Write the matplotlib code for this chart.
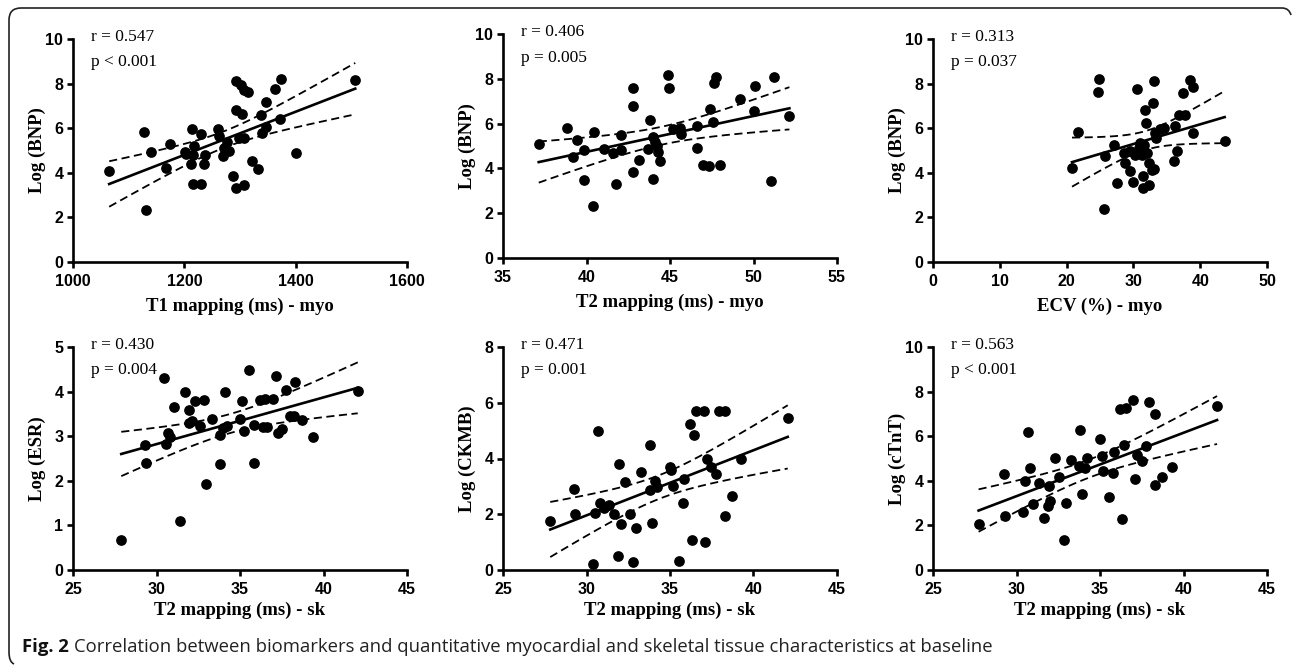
import numpy as np
import matplotlib
matplotlib.use('Agg')
import matplotlib.pyplot as plt
from matplotlib.path import Path
from matplotlib.patches import PathPatch

# panel 1: T1 mapping myo vs log BNP
t1_myo = [1065, 1127, 1131, 1141, 1167, 1174, 1201, 1203, 1214, 1212, 1216, 1217, 1216,
          1230, 1230, 1236, 1237, 1260, 1263, 1269, 1272, 1277, 1280, 1287, 1293, 1292,
          1293, 1302, 1308, 1314, 1304, 1298, 1307, 1307, 1322, 1332, 1337, 1347, 1340,
          1346, 1362, 1374, 1372, 1401, 1507]
bnp_t1 = [4.09, 5.84, 2.34, 4.94, 4.21, 5.28, 4.94, 4.85, 5.96, 4.40, 3.52, 5.18, 4.81,
          5.73, 3.52, 4.40, 4.78, 5.96, 5.63, 4.75, 5.10, 5.40, 4.96, 3.87, 8.12, 6.82,
          3.31, 7.94, 7.72, 7.64, 6.64, 5.55, 5.55, 3.46, 4.55, 4.16, 6.60, 7.16, 5.78,
          6.07, 7.75, 8.19, 6.40, 4.91, 8.16]

# panel 2: T2 mapping myo vs log BNP
t2_myo = [37.14, 38.83, 39.19, 39.43, 39.83, 39.83, 40.37, 40.47, 41.03, 41.59, 42.07,
          42.07, 41.75, 42.78, 42.78, 42.78, 43.16, 43.78, 43.68, 43.96, 43.98, 44.12,
          44.22, 44.30, 44.42, 44.86, 44.94, 45.16, 45.62, 45.66, 46.62, 46.62, 46.96,
          47.36, 47.38, 47.58, 47.66, 47.76, 48.01, 49.17, 50.11, 50.01, 51.05, 51.21, 52.15]
bnp_t2 = [5.10, 5.79, 4.53, 5.25, 4.83, 3.49, 2.30, 5.62, 4.87, 4.68, 5.50,
          4.83, 3.30, 7.61, 6.79, 3.83, 4.38, 6.14, 4.87, 3.54, 5.42, 5.20,
          4.98, 4.75, 4.34, 8.16, 7.58, 5.75, 5.80, 5.54, 5.91, 4.93, 4.13,
          4.09, 6.64, 6.05, 7.83, 8.07, 4.13, 7.10, 7.70, 6.57, 3.45, 8.10, 6.36]

# panel 3: ECV myo vs log BNP
ecv_myo = [20.81, 21.66, 24.65, 24.85, 25.80, 25.65, 27.05, 27.54, 28.54, 28.69, 29.44,
           29.54, 29.94, 30.19, 30.54, 30.79, 31.04, 31.29, 31.44, 31.54, 31.64, 31.79,
           31.89, 32.04, 31.44, 32.29, 32.29, 32.78, 32.88, 33.13, 33.13, 33.28, 33.43,
           33.93, 34.53, 36.03, 36.53, 36.28, 36.88, 37.43, 37.77, 38.52, 38.92, 38.92, 43.66]
bnp_ecv = [4.21, 5.85, 7.64, 8.19, 4.76, 2.37, 5.25, 3.54, 4.88, 4.43, 5.00,
           4.10, 3.57, 4.81, 7.75, 5.10, 5.33, 4.81, 3.87, 4.96, 5.25, 6.82,
           6.22, 4.91, 3.31, 3.46, 4.43, 4.13, 7.15, 8.12, 4.16, 5.78, 5.58,
           5.96, 6.00, 4.55, 4.99, 6.10, 6.60, 7.60, 6.60, 8.16, 7.84, 5.78, 5.43]

# panel 4: T2 mapping sk vs log ESR
t2_sk_esr = [27.89, 29.29, 29.37, 30.43, 30.57, 30.69, 30.79, 31.03, 31.43, 31.69, 31.97,
             31.97, 32.13, 32.33, 32.59, 32.87, 32.98, 33.32, 33.78, 33.82, 33.98, 34.12,
             34.22, 35.02, 35.12, 35.22, 35.56, 35.82, 35.86, 36.22, 36.52, 36.36, 36.62,
             36.98, 37.16, 37.26, 37.52, 37.78, 37.98, 38.25, 38.31, 38.71, 39.35, 42.05]
esr = [0.67, 2.81, 2.40, 4.30, 2.82, 3.07, 2.99, 3.65, 1.09, 4.00, 3.59,
       3.29, 3.33, 3.78, 3.22, 3.82, 1.93, 3.39, 3.03, 2.38, 3.18, 3.98,
       3.22, 3.39, 3.80, 3.12, 4.48, 2.40, 3.24, 3.82, 3.84, 3.20, 3.20,
       3.84, 4.36, 3.07, 3.16, 4.04, 3.46, 3.46, 4.21, 3.37, 2.98, 4.02]

# panel 5: T2 mapping sk vs log CKMB
t2_sk_ckmb = [27.83, 29.27, 29.33, 30.37, 30.53, 30.67, 30.83, 31.03, 31.33, 31.63, 31.87,
              31.97, 32.07, 32.33, 32.59, 32.78, 32.96, 33.28, 33.82, 33.82, 33.92, 34.12,
              34.22, 35.00, 35.06, 35.16, 35.56, 35.82, 35.78, 36.22, 36.32, 36.42, 36.56,
              37.02, 37.12, 37.22, 37.48, 37.78, 37.91, 38.31, 38.31, 38.71, 39.27, 42.05]
ckmb = [1.76, 2.90, 2.00, 0.20, 2.06, 4.99, 2.42, 2.22, 2.34, 2.00, 0.50,
        3.81, 1.64, 3.15, 2.01, 0.30, 1.50, 3.53, 4.47, 2.87, 1.68, 3.20,
        2.99, 3.71, 3.57, 3.03, 0.34, 3.26, 2.42, 5.25, 1.08, 4.85, 5.69,
        5.69, 0.99, 3.99, 3.71, 3.45, 5.69, 5.69, 1.95, 2.66, 3.98, 5.47]

# panel 6: T2 mapping sk vs log cTnT
t2_sk_ctnt = [27.73, 29.27, 29.33, 30.37, 30.49, 30.67, 30.79, 30.99, 31.37, 31.63, 31.87,
              31.97, 32.03, 32.33, 32.57, 32.96, 32.82, 33.28, 33.72, 33.82, 33.92, 34.12,
              34.22, 35.00, 35.12, 35.18, 35.52, 35.82, 35.78, 36.18, 36.56, 36.32, 36.42,
              36.98, 37.12, 37.22, 37.52, 37.78, 37.94, 38.31, 38.27, 38.71, 39.31, 42.01]
ctnt = [2.07, 4.31, 2.40, 2.62, 4.00, 6.18, 4.57, 2.95, 3.89, 2.35, 2.87,
        3.77, 3.10, 5.01, 4.19, 3.02, 1.35, 4.94, 4.67, 6.29, 3.41, 4.57,
        5.01, 5.88, 5.12, 4.42, 3.29, 5.27, 4.34, 7.22, 7.26, 2.28, 5.61,
        7.63, 4.07, 5.16, 4.87, 5.57, 7.53, 6.99, 3.82, 4.19, 4.64, 7.37]

panels = [
    (t1_myo, bnp_t1, 'T1 mapping (ms) - myo', 'Log (BNP)', (1000, 1600), [1000, 1200, 1400, 1600], 10, 'r = 0.547', 'p < 0.001'),
    (t2_myo, bnp_t2, 'T2 mapping (ms) - myo', 'Log (BNP)', (35, 55), [35, 40, 45, 50, 55], 10, 'r = 0.406', 'p = 0.005'),
    (ecv_myo, bnp_ecv, 'ECV (%) - myo', 'Log (BNP)', (0, 50), [0, 10, 20, 30, 40, 50], 10, 'r = 0.313', 'p = 0.037'),
    (t2_sk_esr, esr, 'T2 mapping (ms) - sk', 'Log (ESR)', (25, 45), [25, 30, 35, 40, 45], 5, 'r = 0.430', 'p = 0.004'),
    (t2_sk_ckmb, ckmb, 'T2 mapping (ms) - sk', 'Log (CKMB)', (25, 45), [25, 30, 35, 40, 45], 8, 'r = 0.471', 'p = 0.001'),
    (t2_sk_ctnt, ctnt, 'T2 mapping (ms) - sk', 'Log (cTnT)', (25, 45), [25, 30, 35, 40, 45], 10, 'r = 0.563', 'p < 0.001'),
]

W, H = 1292, 666
# axes boxes in pixels: left, top, right, bottom
boxes = [(73, 39, 407, 262), (503, 34, 837, 258), (933, 39, 1267, 262),
         (73, 347, 407, 570), (503, 347, 837, 570), (933, 347, 1267, 570)]

fig = plt.figure(figsize=(W / 100, H / 100), dpi=100)

for i, (x, y, xlab, ylab, xlim, xt, ymax, rtxt, ptxt) in enumerate(panels):
    l, t, r, b = boxes[i]
    ax = fig.add_axes([l / W, 1 - b / H, (r - l) / W, (b - t) / H])
    x = np.array(x, dtype=float)
    y = np.array(y, dtype=float)

    # linear fit with 95% confidence band
    slope, icpt = np.polyfit(x, y, 1)
    n = len(x)
    resid = y - (slope * x + icpt)
    s = np.sqrt(np.sum(resid ** 2) / (n - 2))
    sxx = np.sum((x - x.mean()) ** 2)
    xs = np.linspace(x.min(), x.max(), 100)
    yfit = slope * xs + icpt
    half = 2.02 * s * np.sqrt(1.0 / n + (xs - x.mean()) ** 2 / sxx)

    ax.plot(x, y, 'o', color='black', ms=6.7, clip_on=False, zorder=3)
    ax.plot(xs, yfit, color='black', lw=1.9, zorder=4)
    ax.plot(xs, yfit + half, color='black', lw=1.3, dashes=(4.5, 2.5), zorder=4)
    ax.plot(xs, yfit - half, color='black', lw=1.3, dashes=(4.5, 2.5), zorder=4)

    ax.set_xlim(xlim)
    ax.set_ylim(0, ymax)
    ax.set_xticks(xt)
    ax.set_yticks(np.arange(0, ymax + 1, 1 if ymax == 5 else 2))
    for sp in ['top', 'right']:
        ax.spines[sp].set_visible(False)
    for sp in ['left', 'bottom']:
        ax.spines[sp].set_linewidth(1.9)
    ax.tick_params(direction='out', length=4.5, width=1.9, pad=2.5, labelsize=11.5)
    ax.tick_params(axis='x', pad=4)
    for lab in ax.get_xticklabels() + ax.get_yticklabels():
        lab.set_fontweight('bold')
        lab.set_fontfamily('Liberation Sans')

    ax.set_xlabel(xlab, fontsize=13.5, fontweight='bold', fontfamily='Liberation Serif')
    ax.set_ylabel(ylab, fontsize=13.5, fontweight='bold', fontfamily='Liberation Serif')
    ax.xaxis.set_label_coords(0.5, -0.20 if i < 3 else -0.18)
    ax.xaxis.label.set_va('center')
    ax.yaxis.set_label_coords(-0.108, 0.5)
    ax.yaxis.label.set_va('center')

    ax.text(0.053, 1.01, rtxt, transform=ax.transAxes, fontsize=12.5,
            fontfamily='Liberation Serif', va='center', ha='left')
    ax.text(0.053, 0.895, ptxt, transform=ax.transAxes, fontsize=12.5,
            fontfamily='Liberation Serif', va='center', ha='left')

# frame (top and left edges with rounded corners)
def px(xp, yp):
    return (xp / 100, (H - yp) / 100)

verts = [px(14, 664), px(9, 662), px(9, 652),
         px(9, 20), px(9, 8), px(21, 8),
         px(1282, 8), px(1289, 8), px(1291, 15)]
codes = [Path.MOVETO, Path.CURVE3, Path.CURVE3,
         Path.LINETO, Path.CURVE3, Path.CURVE3,
         Path.LINETO, Path.CURVE3, Path.CURVE3]
fig.add_artist(PathPatch(Path(verts, codes), facecolor='none', edgecolor='#222222',
                         lw=1.2, transform=fig.dpi_scale_trans))

# caption
cap_y = 1 - 647 / H
t1 = fig.text(22 / W, cap_y, 'Fig. 2', fontsize=13.3, fontweight='bold',
              fontfamily='Open Sans', va='center', color='#111111')
fig.canvas.draw()
bb = t1.get_window_extent()
fig.text((bb.x1 + 5) / W, cap_y,
         'Correlation between biomarkers and quantitative myocardial and skeletal tissue characteristics at baseline',
         fontsize=13.3, fontfamily='Open Sans', va='center', color='#222222')

fig.savefig('out.png', dpi=100)
